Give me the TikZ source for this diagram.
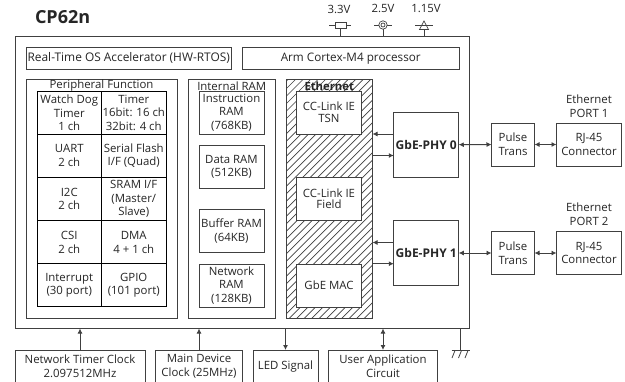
\documentclass[tikz,border=0pt]{standalone}
\usepackage{fontspec}
\setmainfont{Open Sans}
\usetikzlibrary{arrows.meta}
\definecolor{ln}{HTML}{404040}
\definecolor{tx}{HTML}{262626}
\tikzset{
  every node/.style={text=tx,font=\fontsize{11.4}{13.6}\selectfont,align=center,inner sep=0pt,outer sep=0pt},
  blk/.style={draw=ln,line width=.9pt,fill=white,minimum width=#1},
  blk/.default=65pt,
  grid cell/.style={draw=black,line width=.9pt,minimum width=64.5pt,minimum height=43pt},
  frame/.style={draw=ln,line width=.9pt},
  wire/.style={draw=ln,line width=.9pt},
  up/.style={wire,-{Latex[length=5pt,width=5pt]}},
  both/.style={wire,{Latex[length=5pt,width=5pt]}-{Latex[length=5pt,width=5pt]}}
}
\begin{document}
\begin{tikzpicture}[x=1pt,y=-1pt]
\useasboundingbox (0,0) rectangle (625,381);
\fill[white] (0,0) rectangle (625,381);
\node[font=\fontsize{18}{20}\selectfont\bfseries,anchor=west] (title) at (35,17.5) {CP62n};
% main frame
\node[blk,minimum width=454.5pt,minimum height=292pt] (chip) at (242.25,182.5) {};
\node[blk,minimum width=205.5pt,minimum height=21.5pt,font=\fontsize{11.9}{14}\selectfont] (rtos) at (128.75,58.25) {Real-Time OS Accelerator (HW-RTOS)};
\node[blk,minimum width=216.5pt,minimum height=21.5pt,font=\fontsize{11.7}{14}\selectfont] (arm) at (350.75,58.25) {Arm Cortex-M4 processor};
% peripheral
\node[blk,minimum width=151pt,minimum height=238.5pt] (per) at (101.5,198.75) {};
\node (perT) at (101.5,86) {Peripheral Function};
\node[grid cell] (g11) at (69.25,112.75) {Watch Dog\\Timer\\1 ch};
\node[grid cell] (g12) at (133.75,112.75) {Timer\\16bit: 16 ch\\32bit: 4 ch};
\node[grid cell] (g21) at (69.25,155.75) {UART\\2 ch};
\node[grid cell] (g22) at (133.75,155.75) {Serial Flash\\I/F (Quad)};
\node[grid cell] (g31) at (69.25,198.9) {I2C\\2 ch};
\node[grid cell] (g32) at (133.75,198.9) {SRAM I/F\\(Master/\\Slave)};
\node[grid cell] (g41) at (69.25,242.25) {CSI\\2 ch};
\node[grid cell] (g42) at (133.75,242.25) {DMA\\4 + 1 ch};
\node[grid cell] (g51) at (69.25,285.4) {Interrupt\\(30 port)};
\node[grid cell] (g52) at (133.75,285.4) {GPIO\\(101 port)};
% RAM
\node[blk,minimum width=86.5pt,minimum height=238.5pt] (ram) at (231.75,198.75) {};
\node (ramT) at (231.75,86) {Internal RAM};
\node[blk,minimum height=43pt] (r1) at (231.5,112.5) {Instruction\\RAM\\(768KB)};
\node[blk,minimum height=43pt] (r2) at (231.5,166.75) {Data RAM\\(512KB)};
\node[blk,minimum height=43pt] (r3) at (231.5,231.25) {Buffer RAM\\(64KB)};
\node[blk,minimum height=43pt] (r4) at (231.5,285.5) {Network\\RAM\\(128KB)};
% ethernet
\node[minimum width=86.5pt,minimum height=238.5pt] (eth) at (329.25,198.75) {};
\begin{scope}
\clip (286,79.5) rectangle (372.5,318);
\foreach \k in {0,...,46} \draw[ln,line width=.7pt] (30+\k*7.5,330) -- ++(270,-270);
\end{scope}
\draw[frame] (286,79.5) rectangle (372.5,318);
\node[font=\fontsize{11.3}{13.6}\selectfont\bfseries] (ethT) at (329.25,86) {Ethernet};
\node[blk,minimum height=43pt] (e1) at (329,112.5) {CC-Link IE\\[-2pt]TSN};
\node[blk,minimum height=43pt] (e2) at (329,198.75) {CC-Link IE\\[-2pt]Field};
\node[blk,minimum height=43pt] (e3) at (329,285.5) {GbE MAC};
% PHY
\node[blk,minimum height=65pt,font=\fontsize{12}{14}\selectfont\bfseries] (p0) at (426.25,144.75) {GbE-PHY 0};
\node[blk,minimum height=65pt,font=\fontsize{12}{14}\selectfont\bfseries] (p1) at (426.25,253) {GbE-PHY 1};
\node[blk=43pt,minimum height=43pt] (t0) at (513,144.5) {Pulse\\Trans};
\node[blk=43pt,minimum height=43pt] (t1) at (513,253) {Pulse\\Trans};
\node[blk,minimum height=43pt] (c0) at (589,144.5) {RJ-45\\Connector};
\node[blk,minimum height=43pt] (c1) at (589,253) {RJ-45\\Connector};
\node (lp0) at (589,106) {Ethernet\\PORT 1};
\node (lp1) at (589,214.5) {Ethernet\\PORT 2};
% bottom
\node[blk=130pt,minimum height=33pt] (b1) at (80,366.5) {Network Timer Clock\\2.097512MHz};
\node[blk=87pt,minimum height=33pt] (b2) at (199,366.5) {Main Device\\Clock (25MHz)};
\node[blk=65pt,minimum height=33pt] (b3) at (285.5,366.5) {LED Signal};
\node[blk=109pt,minimum height=33pt] (b4) at (383,366.5) {User Application\\Circuit};
% connectors
\coordinate (ethA) at (372.5,134);
\coordinate (ethB) at (372.5,155.5);
\coordinate (ethC) at (372.5,242.5);
\coordinate (ethD) at (372.5,263.7);
\draw[up] (p0.west |- ethA) -- (ethA);
\draw[up] (ethB) -- (p0.west |- ethB);
\draw[up] (p1.west |- ethC) -- (ethC);
\draw[up] (ethD) -- (p1.west |- ethD);
\draw[both] (p0) -- (t0);
\draw[both] (t0) -- (c0);
\draw[both] (p1) -- (t1);
\draw[both] (t1) -- (c1);
\draw[up] (b1.north) -- (b1.north |- chip.south);
\draw[up] (b2.north) -- (b2.north |- chip.south);
\draw[up] (b3.north |- chip.south) -- (b3.north);
\draw[both] (b4.north |- chip.south) -- (b4.north);
% power
\node (v1) at (339,9) {3.3V};
\node (v2) at (383,8) {2.5V};
\node (v3) at (426,9) {1.15V};
\coordinate (s1) at (340,36.5);
\coordinate (s2) at (383,36.5);
\coordinate (s3) at (424,36.5);
\draw[wire,line width=.7pt] (s1) -- ++(0,-8.5) ++(-11,-3) -- ++(22,0);
\draw[wire,line width=.7pt,fill=white] (335,22) rectangle (346,28);
\draw[wire,line width=.7pt] (s2) -- ++(0,-7.5) ++(-9,-4) -- ++(18,0);
\draw[wire,line width=.7pt,fill=white] (383,25) circle (4.2);
\draw[wire,line width=.7pt] (383,25) circle (2);
\draw[wire,line width=.7pt] (s3) -- ++(0,-7) ++(-9,-4.5) -- ++(18,0);
\draw[wire,line width=.7pt,fill=none] (419.5,29.5) -- (424,21) -- (428.5,29.5) -- cycle;
% ground
\coordinate (gnd) at (460.5,350);
\draw[wire] (gnd |- chip.south) -- (gnd);
\draw[wire,line width=.8pt] (451.5,350.5) -- (469.5,350.5);
\foreach \gx in {455,461.5,468} \draw[wire,line width=.8pt] (\gx,350.5) -- ++(-3,7.5);
\end{tikzpicture}
\end{document}
